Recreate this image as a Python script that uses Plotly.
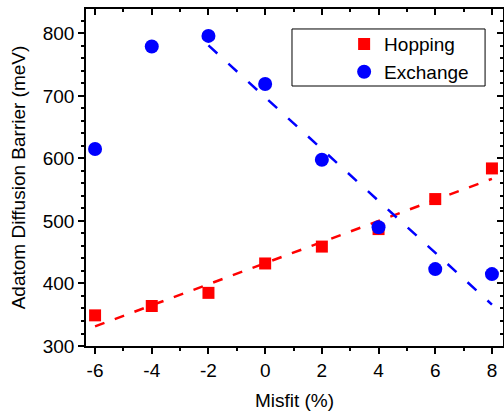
import numpy as np
import plotly.graph_objects as go

misfit = [-6, -4, -2, 0, 2, 4, 6, 8]
hopping = [349, 364, 385, 432, 459, 487, 535, 584]
exchange = [615, 779, 796, 719, 598, 490, 423, 415]
x_ticks = [-6, -4, -2, 0, 2, 4, 6, 8]
x_ticklabels = ["-6", "-4", "-2", "0", "2", "4", "6", "8"]
y_ticks = [300, 400, 500, 600, 700, 800]

FONT = "Liberation Sans, Arial, sans-serif"
FS = 19
XR = [-6.32, 8.39]
YR = [300, 839]

# linear fits
ph = np.polyfit(misfit, hopping, 1)
hx = np.array([min(misfit), max(misfit)])
hy = np.polyval(ph, hx)

ex_x = [m for m in misfit if m >= -2]
ex_y = [e for m, e in zip(misfit, exchange) if m >= -2]
pe = np.polyfit(ex_x, ex_y, 1)
exx = np.array([min(ex_x), max(ex_x)])
exy = np.polyval(pe, exx)

fig = go.Figure()
fig.add_trace(go.Scatter(x=hx, y=hy, mode="lines", showlegend=False,
                         line=dict(color="#FF0000", width=2.5, dash="10px,11px"),
                         hoverinfo="skip"))
fig.add_trace(go.Scatter(x=exx, y=exy, mode="lines", showlegend=False,
                         line=dict(color="#0000FF", width=2.5, dash="12px,15px"),
                         hoverinfo="skip"))
fig.add_trace(go.Scatter(x=misfit, y=hopping, mode="markers", name="Hopping",
                         marker=dict(symbol="square", size=12, color="#FF0000")))
fig.add_trace(go.Scatter(x=misfit, y=exchange, mode="markers", name="Exchange",
                         marker=dict(symbol="circle", size=14, color="#0000FF")))
# empty trace to anchor the mirrored (top/right) axes
fig.add_trace(go.Scatter(x=[], y=[], xaxis="x2", yaxis="y2", showlegend=False))

axis_common = dict(showgrid=False, zeroline=False, linecolor="black", linewidth=1.5,
                   tickcolor="black", tickwidth=1.5, ticklen=6,
                   tickfont=dict(family=FONT, size=FS, color="black"))

fig.update_layout(
    width=504, height=416,
    margin=dict(l=86, r=1, t=9, b=70),
    paper_bgcolor="white", plot_bgcolor="white",
    font=dict(family=FONT, size=FS, color="black"),
    xaxis=dict(range=XR, tickvals=x_ticks, ticktext=x_ticklabels, ticks="outside", showline=True,
               minor=dict(dtick=1, tick0=0, ticks="outside", ticklen=3, tickwidth=1.5, tickcolor="black"),
               title=dict(text="Misfit (%)", font=dict(family=FONT, size=FS), standoff=14),
               **axis_common),
    yaxis=dict(range=YR, tickvals=y_ticks, ticks="outside", showline=True,
               minor=dict(dtick=20, tick0=0, ticks="outside", ticklen=3, tickwidth=1.5, tickcolor="black"),
               title=dict(text="Adatom Diffusion Barrier (meV)", font=dict(family=FONT, size=FS), standoff=12),
               **axis_common),
    xaxis2=dict(range=XR, overlaying="x", side="top", anchor="y2", tickvals=x_ticks,
                ticks="inside", showticklabels=False, showline=True,
                minor=dict(dtick=1, tick0=0, ticks="inside", ticklen=3, tickwidth=1.5, tickcolor="black"),
                **axis_common),
    yaxis2=dict(range=YR, overlaying="y", side="right", anchor="x2", tickvals=y_ticks,
                ticks="inside", showticklabels=False, showline=True,
                minor=dict(dtick=20, tick0=0, ticks="inside", ticklen=3, tickwidth=1.5, tickcolor="black"),
                **axis_common),
    legend=dict(x=0.619, y=0.952, xanchor="left", yanchor="top",
                bgcolor="rgba(0,0,0,0)", borderwidth=0,
                font=dict(family=FONT, size=FS, color="black"), tracegroupgap=0),
    shapes=[dict(type="rect", xref="paper", yref="paper",
                 x0=0.494, x1=0.957, y0=0.7715, y1=0.9407,
                 line=dict(color="black", width=1), fillcolor="rgba(0,0,0,0)", layer="below")],
    showlegend=True,
)

fig.write_html("out.html")
